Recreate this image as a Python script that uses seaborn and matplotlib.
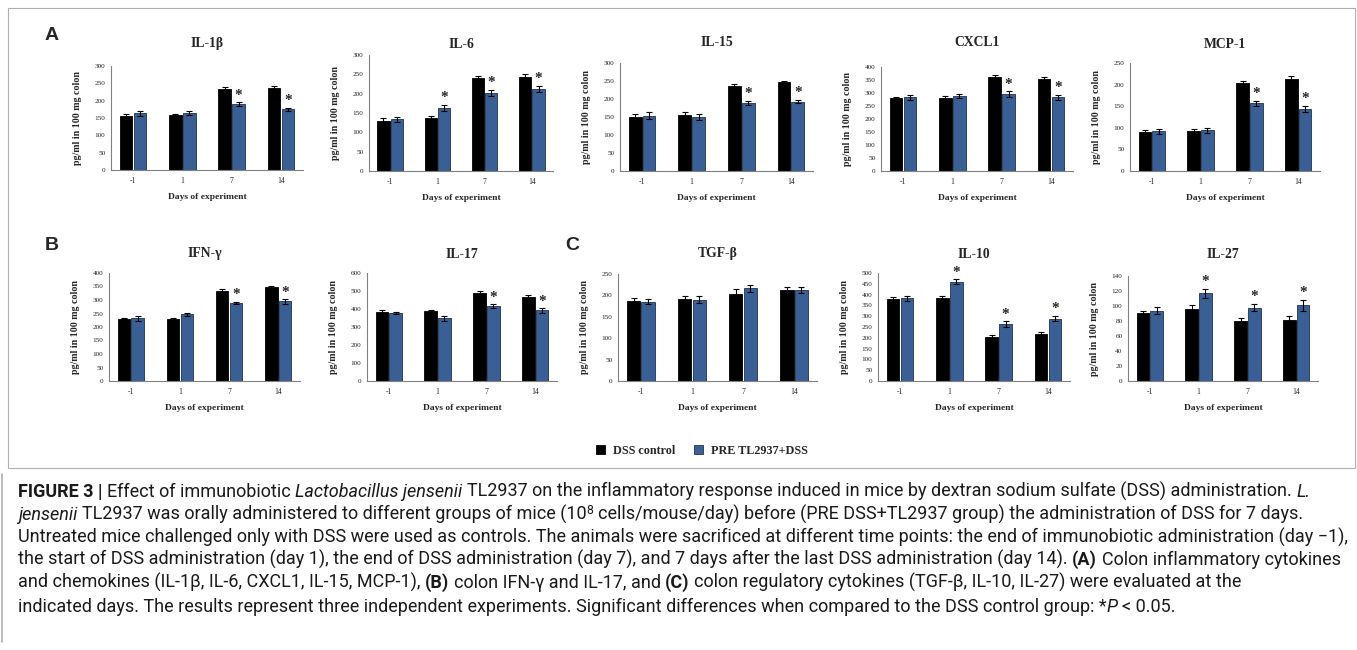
import numpy as np
import pandas as pd
import seaborn as sns
import matplotlib.pyplot as plt
from matplotlib.patches import Patch, Rectangle
from matplotlib.lines import Line2D

sns.set_style("white")
plt.rcParams["font.family"] = ["Liberation Serif", "DejaVu Serif"]

W, H = 1357, 650

days = ["-1", "1", "7", "14"]
groups = ["DSS control", "PRE TL2937+DSS"]
ctrl_color = "#000000"
pre_color = "#3a5f94"

# values: means, error bars, significance
il1b_ctrl = [157, 158, 234, 237]
il1b_pre = [163, 165, 190, 175]
il1b_ctrl_err = [4, 4, 5, 4]
il1b_pre_err = [6, 5, 5, 5]
il1b_sig = [0, 0, 1, 1]

il6_ctrl = [130, 136, 240, 244]
il6_pre = [134, 163, 202, 213]
il6_ctrl_err = [6, 6, 6, 6]
il6_pre_err = [6, 8, 8, 8]
il6_sig = [0, 1, 1, 1]

il15_ctrl = [151, 155, 237, 247]
il15_pre = [154, 149, 189, 193]
il15_ctrl_err = [7, 8, 6, 4]
il15_pre_err = [9, 8, 6, 5]
il15_sig = [0, 0, 1, 1]

cxcl1_ctrl = [280, 280, 362, 352]
cxcl1_pre = [283, 288, 295, 283]
cxcl1_ctrl_err = [6, 8, 7, 10]
cxcl1_pre_err = [8, 9, 12, 11]
cxcl1_sig = [0, 0, 1, 1]

mcp1_ctrl = [91, 92, 204, 214]
mcp1_pre = [92, 94, 157, 144]
mcp1_ctrl_err = [5, 5, 4, 5]
mcp1_pre_err = [6, 5, 6, 7]
mcp1_sig = [0, 0, 1, 1]

ifng_ctrl = [230, 230, 335, 347]
ifng_pre = [232, 247, 289, 295]
ifng_ctrl_err = [2, 4, 6, 6]
ifng_pre_err = [9, 5, 5, 8]
ifng_sig = [0, 0, 1, 1]

il17_ctrl = [382, 387, 488, 468]
il17_pre = [378, 349, 415, 392]
il17_ctrl_err = [10, 7, 10, 8]
il17_pre_err = [8, 13, 12, 12]
il17_sig = [0, 0, 1, 1]

tgfb_ctrl = [187, 192, 204, 213]
tgfb_pre = [185, 190, 217, 213]
tgfb_ctrl_err = [7, 6, 10, 6]
tgfb_pre_err = [6, 8, 8, 7]
tgfb_sig = [0, 0, 0, 0]

il10_ctrl = [380, 383, 205, 217]
il10_pre = [382, 460, 264, 289]
il10_ctrl_err = [10, 10, 10, 8]
il10_pre_err = [13, 12, 12, 12]
il10_sig = [0, 1, 1, 1]

il27_ctrl = [91, 96, 80, 82]
il27_pre = [94, 117, 98, 101]
il27_ctrl_err = [3, 6, 4, 5]
il27_pre_err = [5, 6, 5, 7]
il27_sig = [0, 1, 1, 1]

# name, data, y max, y step, axes box in px (left, right, top, bottom), title y px
panels = [
    ("IL-1β", il1b_ctrl, il1b_pre, il1b_ctrl_err, il1b_pre_err, il1b_sig, 300, 50, (111, 303, 66, 170), 44),
    ("IL-6", il6_ctrl, il6_pre, il6_ctrl_err, il6_pre_err, il6_sig, 300, 50, (369, 553, 55, 171), 44),
    ("IL-15", il15_ctrl, il15_pre, il15_ctrl_err, il15_pre_err, il15_sig, 300, 50, (620, 813, 63, 171), 43),
    ("CXCL1", cxcl1_ctrl, cxcl1_pre, cxcl1_ctrl_err, cxcl1_pre_err, cxcl1_sig, 400, 50, (881, 1073, 67, 171), 43),
    ("MCP-1", mcp1_ctrl, mcp1_pre, mcp1_ctrl_err, mcp1_pre_err, mcp1_sig, 250, 50, (1130, 1320, 63, 171), 44),
    ("IFN-γ", ifng_ctrl, ifng_pre, ifng_ctrl_err, ifng_pre_err, ifng_sig, 400, 50, (109, 300, 273, 381), 253),
    ("IL-17", il17_ctrl, il17_pre, il17_ctrl_err, il17_pre_err, il17_sig, 600, 100, (367, 557, 273, 381), 254),
    ("TGF-β", tgfb_ctrl, tgfb_pre, tgfb_ctrl_err, tgfb_pre_err, tgfb_sig, 250, 50, (618, 817, 274, 381), 254),
    ("IL-10", il10_ctrl, il10_pre, il10_ctrl_err, il10_pre_err, il10_sig, 500, 50, (878, 1070, 273, 381), 254),
    ("IL-27", il27_ctrl, il27_pre, il27_ctrl_err, il27_pre_err, il27_sig, 140, 20, (1128, 1318, 276, 381), 254),
]

fig = plt.figure(figsize=(W / 100, H / 100), dpi=100)

for name, ctrl, pre, ctrl_err, pre_err, sig, ymax, ystep, box, title_y in panels:
    l, r, t, b = box
    ax = fig.add_axes([l / W, 1 - b / H, (r - l) / W, (b - t) / H])
    df = pd.DataFrame({
        "day": days * 2,
        "group": [groups[0]] * 4 + [groups[1]] * 4,
        "value": ctrl + pre,
    })
    sns.barplot(data=df, x="day", y="value", hue="group", order=days, hue_order=groups,
                palette=[ctrl_color, pre_color], saturation=1, width=0.56, gap=0.08,
                errorbar=None, legend=False, ax=ax)

    for cont, errs, ec in zip(ax.containers, [ctrl_err, pre_err], ["#000000", "#1d3350"]):
        xs = [bar.get_x() + bar.get_width() / 2 for bar in cont]
        hs = [bar.get_height() for bar in cont]
        for bar in cont:
            bar.set_edgecolor(ec)
            bar.set_linewidth(0.6)
        ax.errorbar(xs, hs, yerr=errs, fmt="none", ecolor="black", elinewidth=0.8,
                    capsize=2, capthick=0.8, zorder=3)
        if cont is ax.containers[1]:
            for x, h, e, s in zip(xs, hs, errs, sig):
                if s:
                    ax.text(x, h + e + ymax * 0.005, "*", ha="center", va="bottom",
                            fontsize=11, fontweight="bold")

    ax.set_ylim(0, ymax)
    ax.set_yticks(np.arange(0, ymax + 1, ystep))
    ax.tick_params(axis="y", labelsize=5.2, length=0, pad=4)
    ax.tick_params(axis="x", labelsize=5.5, length=0, pad=5)
    for side in ["top", "right"]:
        ax.spines[side].set_visible(False)
    for side in ["left", "bottom"]:
        ax.spines[side].set_color("#808080")
        ax.spines[side].set_linewidth(0.8)
    ax.set_ylabel("pg/ml in 100 mg colon", fontsize=7.2, fontweight="bold")
    ax.yaxis.set_label_coords(-29 / (r - l), 0.5)
    ax.set_xlabel("Days of experiment", fontsize=6.8, fontweight="bold")
    ax.xaxis.set_label_coords(0.5, -23 / (b - t))
    fig.text((l + r) / 2 / W, 1 - title_y / H, name, ha="center", va="center",
             fontsize=9.8, fontweight="bold")

# panel letters
for letter, x, y in [("A", 45, 36), ("B", 45, 246), ("C", 565, 246)]:
    fig.text(x / W, 1 - y / H, letter, ha="left", va="center", fontsize=14,
             fontweight="bold", family=["Liberation Sans", "DejaVu Sans"])

handles = [Patch(facecolor=ctrl_color, edgecolor="black", linewidth=0.6),
           Patch(facecolor=pre_color, edgecolor="#1d3350", linewidth=0.6)]
fig.legend(handles, groups, loc="center", bbox_to_anchor=(702 / W, 1 - 451 / H), ncol=2,
           frameon=False, handlelength=0.75, handleheight=0.75, handletextpad=0.7,
           columnspacing=1.5, prop={"family": ["Liberation Serif"], "weight": "bold", "size": 8.7})

# frames
fig.patches.append(Rectangle((8 / W, 1 - 468 / H), (1355 - 8) / W, (468 - 8) / H,
                             transform=fig.transFigure, fill=False, edgecolor="#b0b0b0", lw=0.8))
fig.lines.append(Line2D([2 / W, 2 / W], [1 - 474 / H, 1 - 642 / H], transform=fig.transFigure,
                        color="#b0b0b0", lw=1.2))

# caption
caption = [
    [("FIGURE 3 | ", "bold"), ("Effect of immunobiotic ", "normal"), ("Lactobacillus jensenii", "italic"),
     (" TL2937 on the inflammatory response induced in mice by dextran sodium sulfate (DSS) administration. ", "normal"),
     ("L.", "italic")],
    [("jensenii", "italic"), (" TL2937 was orally administered to different groups of mice (10", "normal"),
     ("8", "sup"), (" cells/mouse/day) before (PRE DSS+TL2937 group) the administration of DSS for 7 days.", "normal")],
    [("Untreated mice challenged only with DSS were used as controls. The animals were sacrificed at different time points: the end of immunobiotic administration (day \u22121),", "normal")],
    [("the start of DSS administration (day 1), the end of DSS administration (day 7), and 7 days after the last DSS administration (day 14). ", "normal"),
     ("(A)", "bold"), (" Colon inflammatory cytokines", "normal")],
    [("and chemokines (IL-1β, IL-6, CXCL1, IL-15, MCP-1), ", "normal"), ("(B)", "bold"),
     (" colon IFN-γ and IL-17, and ", "normal"), ("(C)", "bold"),
     (" colon regulatory cytokines (TGF-β, IL-10, IL-27) were evaluated at the", "normal")],
    [("indicated days. The results represent three independent experiments. Significant differences when compared to the DSS control group: *", "normal"),
     ("P", "italic"), (" < 0.05.", "normal")],
]
cap_baselines = [497, 520, 543, 565, 588, 612]
cap_family = ["Roboto", "Liberation Sans", "DejaVu Sans"]
cap_color = "#1a1a1a"
renderer = fig.canvas.get_renderer()


def text_width(s, size, weight="normal", style="normal"):
    t = fig.text(0, 0, s, fontsize=size, fontweight=weight, fontstyle=style, family=cap_family)
    w = t.get_window_extent(renderer).width
    t.remove()
    return w


def draw_line(segments, x0, y0, size, draw=True):
    space_w = text_width("x x", size) - text_width("xx", size)
    x = x0
    for s, kind in segments:
        weight = "bold" if kind == "bold" else "normal"
        style = "italic" if kind == "italic" else "normal"
        fs = size * 0.68 if kind == "sup" else size
        dy = size * 0.45 if kind == "sup" else 0
        lead = len(s) - len(s.lstrip(" "))
        trail = len(s) - len(s.rstrip(" "))
        core = s.strip(" ")
        x += lead * space_w
        if core:
            t = fig.text(x / W, 1 - (y0 - dy) / H, core, fontsize=fs, fontweight=weight,
                         fontstyle=style, family=cap_family, va="baseline", ha="left",
                         color=cap_color)
            x += t.get_window_extent(renderer).width
            if not draw:
                t.remove()
        x += trail * space_w
    return x - x0


base = 10
widest = max(draw_line(segs, 18, 0, base, draw=False) for segs in caption)
cap_size = base * (1343 - 18) / widest
for segs, yb in zip(caption, cap_baselines):
    draw_line(segs, 18, yb, cap_size)

fig.savefig("out.png", dpi=100)
